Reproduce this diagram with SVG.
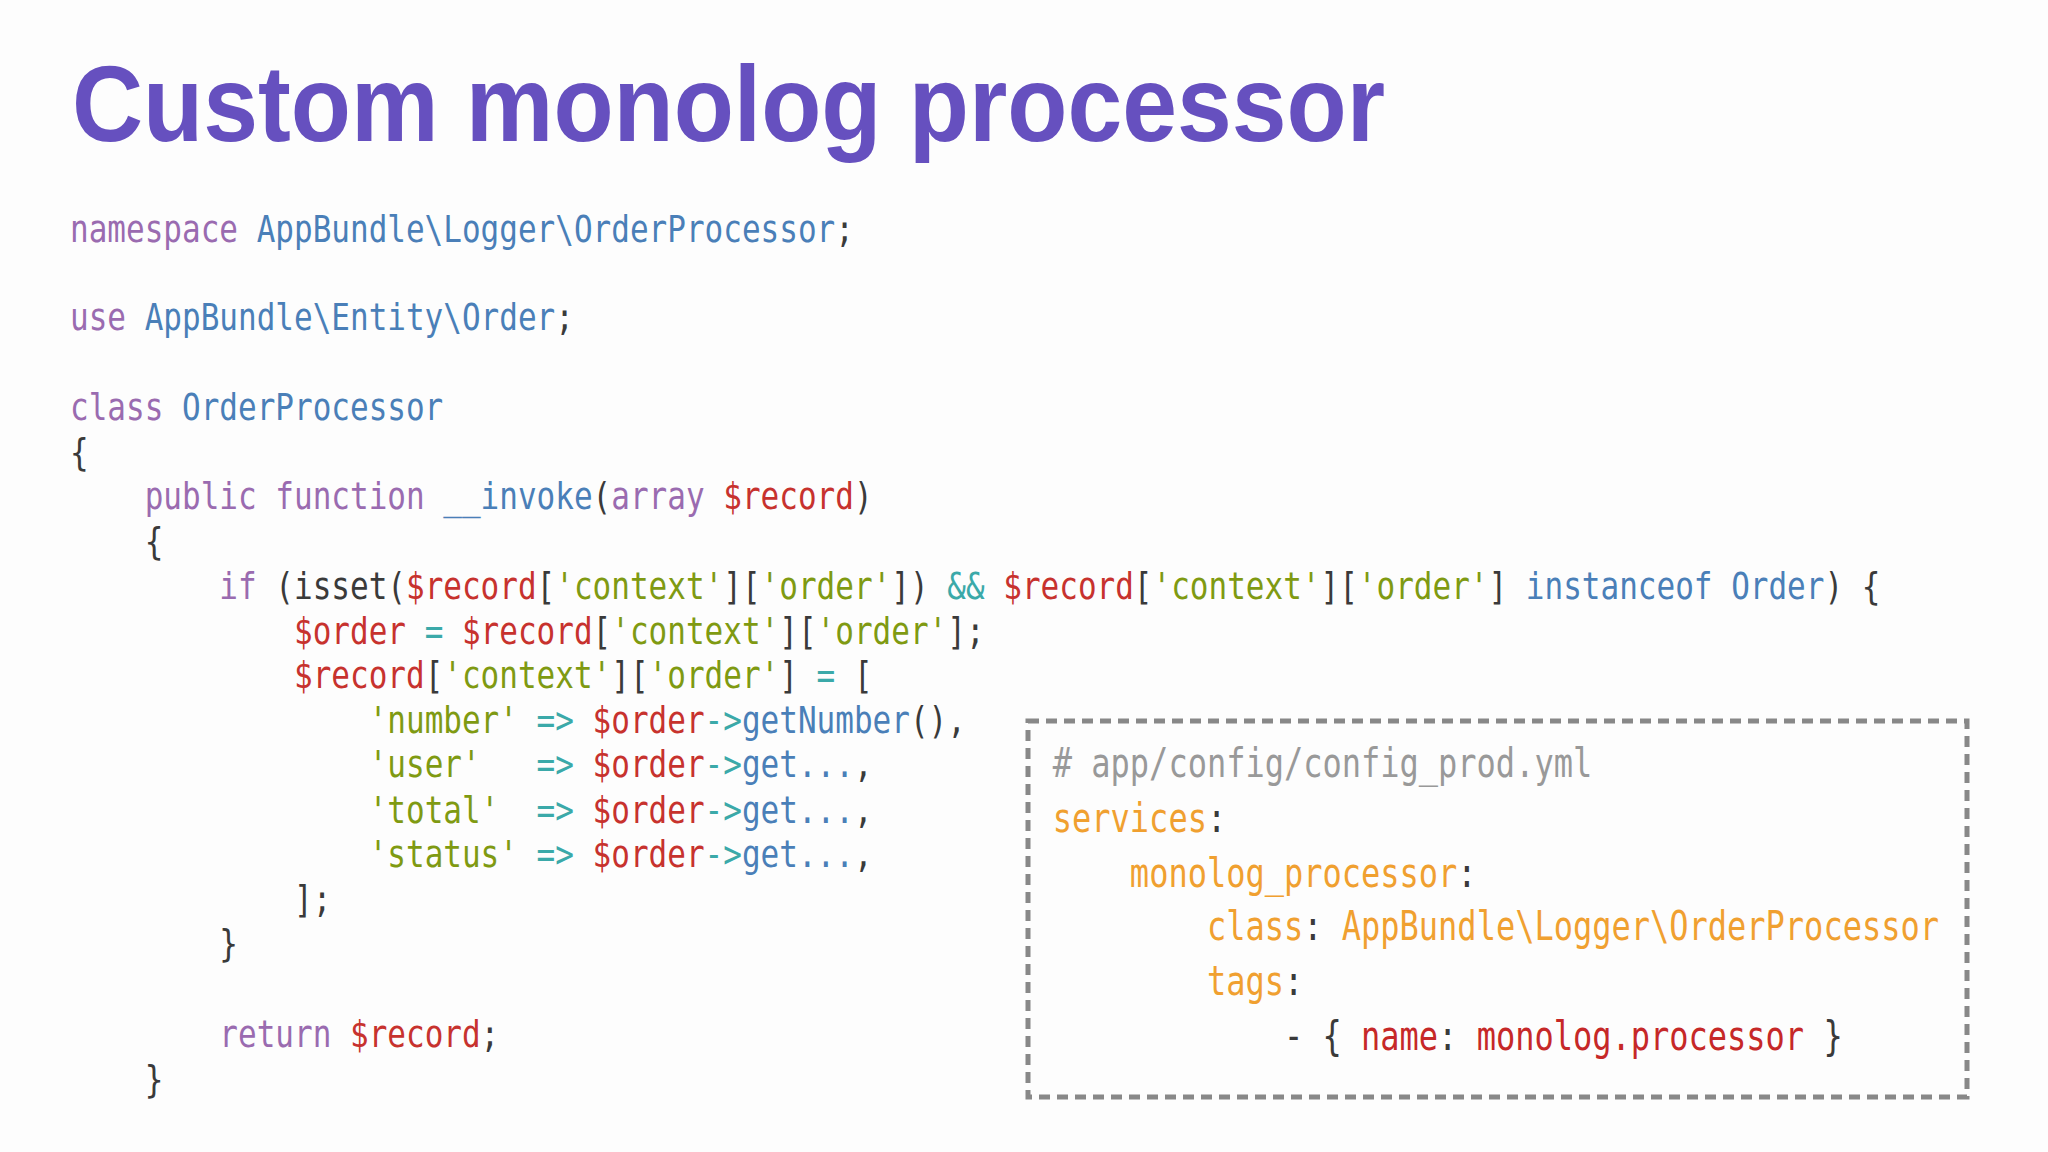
<svg xmlns="http://www.w3.org/2000/svg" width="2048" height="1152" viewBox="0 0 2048 1152">
<style>
.code{font-family:"DejaVu Sans Mono","Liberation Mono",monospace;font-size:38px;white-space:pre;fill:#3a3a3a}
.y{font-family:"DejaVu Sans Mono","Liberation Mono",monospace;font-size:40px;white-space:pre;fill:#3a3a3a}
.k{fill:#9a6bb0}.b{fill:#4a7fb8}.r{fill:#c7322e}.g{fill:#7f9a12}.t{fill:#3ba9a9}
.o{fill:#f0a030}.c{fill:#999999}.yr{fill:#c62828}
</style>
<rect width="2048" height="1152" fill="#fdfdfd"/>
<g id="title"><text x="72" y="141" font-family="Liberation Sans,Arial,sans-serif" font-weight="bold" font-size="108" fill="#6650bf" textLength="1313" lengthAdjust="spacingAndGlyphs">Custom monolog processor</text></g>
<g id="php" transform="scale(0.816,1)" xml:space="preserve">
<text class="code" x="85.8" y="242"><tspan class="k">namespace</tspan> <tspan class="b">AppBundle\Logger\OrderProcessor</tspan>;</text>
<text class="code" x="85.8" y="330"><tspan class="k">use</tspan> <tspan class="b">AppBundle\Entity\Order</tspan>;</text>
<text class="code" x="85.8" y="420"><tspan class="k">class</tspan> <tspan class="b">OrderProcessor</tspan></text>
<text class="code" x="85.8" y="465">{</text>
<text class="code" x="85.8" y="509">    <tspan class="k">public function</tspan> <tspan class="b">__invoke</tspan>(<tspan class="k">array</tspan> <tspan class="r">$record</tspan>)</text>
<text class="code" x="85.8" y="554">    {</text>
<text class="code" x="85.8" y="599">        <tspan class="k">if</tspan> (isset(<tspan class="r">$record</tspan>[<tspan class="g">'context'</tspan>][<tspan class="g">'order'</tspan>]) <tspan class="t">&amp;&amp;</tspan> <tspan class="r">$record</tspan>[<tspan class="g">'context'</tspan>][<tspan class="g">'order'</tspan>] <tspan class="b">instanceof Order</tspan>) {</text>
<text class="code" x="85.8" y="644">            <tspan class="r">$order</tspan> <tspan class="t">=</tspan> <tspan class="r">$record</tspan>[<tspan class="g">'context'</tspan>][<tspan class="g">'order'</tspan>];</text>
<text class="code" x="85.8" y="688">            <tspan class="r">$record</tspan>[<tspan class="g">'context'</tspan>][<tspan class="g">'order'</tspan>] <tspan class="t">=</tspan> [</text>
<text class="code" x="85.8" y="733">                <tspan class="g">'number'</tspan> <tspan class="t">=&gt;</tspan> <tspan class="r">$order</tspan><tspan class="t">-&gt;</tspan><tspan class="b">getNumber</tspan>(),</text>
<text class="code" x="85.8" y="777">                <tspan class="g">'user'</tspan>   <tspan class="t">=&gt;</tspan> <tspan class="r">$order</tspan><tspan class="t">-&gt;</tspan><tspan class="b">get...</tspan>,</text>
<text class="code" x="85.8" y="823">                <tspan class="g">'total'</tspan>  <tspan class="t">=&gt;</tspan> <tspan class="r">$order</tspan><tspan class="t">-&gt;</tspan><tspan class="b">get...</tspan>,</text>
<text class="code" x="85.8" y="867">                <tspan class="g">'status'</tspan> <tspan class="t">=&gt;</tspan> <tspan class="r">$order</tspan><tspan class="t">-&gt;</tspan><tspan class="b">get...</tspan>,</text>
<text class="code" x="85.8" y="912">            ];</text>
<text class="code" x="85.8" y="956">        }</text>
<text class="code" x="85.8" y="1047">        <tspan class="k">return</tspan> <tspan class="r">$record</tspan>;</text>
<text class="code" x="85.8" y="1092">    }</text>
</g>
<g id="yaml">
<rect x="1028" y="721" width="939" height="376" fill="none" stroke="#888888" stroke-width="5" stroke-dasharray="11 7"/>
<g transform="scale(0.8,1)" xml:space="preserve">
<text class="y" x="1316" y="777"><tspan class="c"># app/config/config_prod.yml</tspan></text>
<text class="y" x="1316" y="832"><tspan class="o">services</tspan>:</text>
<text class="y" x="1316" y="887">    <tspan class="o">monolog_processor</tspan>:</text>
<text class="y" x="1316" y="940">        <tspan class="o">class</tspan>: <tspan class="o">AppBundle\Logger\OrderProcessor</tspan></text>
<text class="y" x="1316" y="995">        <tspan class="o">tags</tspan>:</text>
<text class="y" x="1316" y="1050">            - { <tspan class="yr">name</tspan>: <tspan class="yr">monolog.processor</tspan> }</text>
</g>
</g>
</svg>
